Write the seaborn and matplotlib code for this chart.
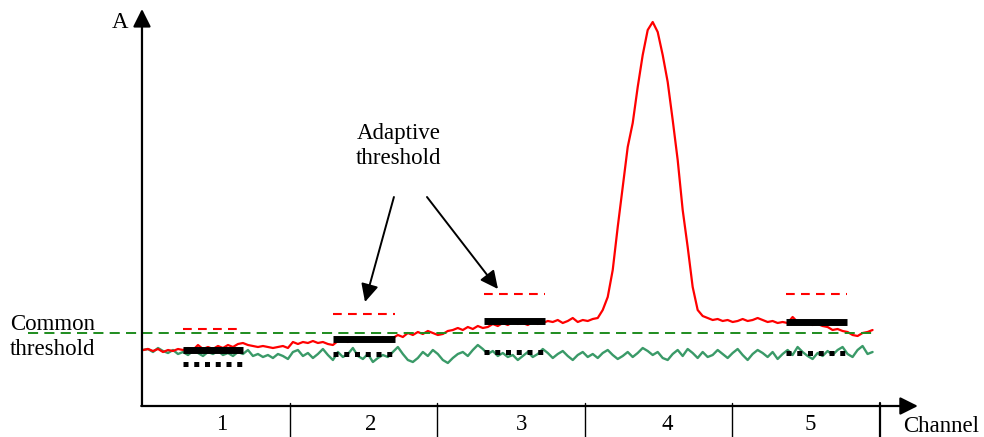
import numpy as np
import matplotlib
matplotlib.use("Agg")
import matplotlib.pyplot as plt
import seaborn as sns

sns.set_style("white")
plt.rcParams['font.family'] = ['Liberation Serif', 'DejaVu Serif']
plt.rcParams['text.color'] = 'black'

# --- data (channel units on x, amplitude A on y) ---
red_signal = [
    56, 57, 55, 57, 54, 56, 55, 57, 56, 58, 56, 61, 57, 59, 57, 60, 58, 61, 59, 62,
    63, 61, 60, 59, 60, 59, 58, 59, 60, 58, 64, 62, 64, 63, 65, 63, 64, 62, 61, 65,
    66, 64, 67, 65, 68, 66, 67, 65, 69, 67, 68, 71, 69, 73, 71, 74, 72, 75, 73, 71,
    72, 75, 76, 78, 76, 79, 77, 80, 78, 79, 82, 80, 83, 81, 84, 82, 83, 81, 84, 82,
    83, 85, 84, 86, 83, 85, 88, 84, 86, 85, 87, 88, 96, 109, 136, 179, 219, 259, 283, 319,
    351, 376, 384, 374, 351, 324, 286, 246, 196, 159, 119, 96, 90, 88, 86, 87, 85, 86, 84, 85,
    87, 85, 86, 88, 86, 84, 85, 83, 84, 83, 89, 84, 82, 83, 81, 82, 80, 79, 76, 77,
    75, 74, 71, 70, 73, 74, 76,
]
green_noise = [
    56, 57, 54, 58, 55, 53, 56, 52, 54, 51, 55, 53, 50, 54, 52, 55, 51, 53, 50, 54,
    52, 56, 50, 52, 49, 51, 48, 52, 50, 47, 54, 56, 50, 53, 48, 52, 57, 51, 46, 54,
    49, 52, 58, 50, 47, 52, 44, 48, 51, 49, 54, 59, 52, 46, 44, 48, 54, 50, 56, 52,
    46, 43, 48, 52, 54, 50, 56, 61, 57, 52, 55, 50, 53, 49, 51, 46, 50, 54, 49, 52,
    57, 53, 48, 52, 55, 50, 46, 51, 54, 49, 52, 48, 53, 56, 51, 47, 50, 54, 49, 53,
    58, 55, 51, 54, 48, 46, 52, 56, 50, 57, 53, 48, 54, 49, 51, 56, 52, 48, 53, 57,
    51, 46, 52, 56, 53, 49, 54, 47, 52, 56, 51, 59, 54, 50, 47, 53, 50, 55, 51, 56,
    59, 52, 49, 56, 60, 52, 54,
]
signal_span = (0.007, 4.95)

channels = ['1', '2', '3', '4', '5']
channel_edges = [1, 2, 3, 4, 5]
label_x = [0.54, 1.55, 2.57, 3.56, 4.53]

# analysis windows in channels 1, 2, 3 and 5
win_start = [0.278, 1.294, 2.317, 4.363]
win_end = [0.684, 1.714, 2.730, 4.776]
adaptive_thr = [77, 92, 112, 112]
signal_level = [56, 67, 85, 84]
noise_level = [42, 52, 54, 53]

common_thr = 73
common_span = (-0.772, 4.966)

# --- figure ---
fig = plt.figure(figsize=(9.84, 4.37), dpi=100)
ax = fig.add_axes([0, 0, 1, 1])
ax.set_xlim(-0.962, 5.705)
ax.set_ylim(-31, 406)
ax.axis('off')

x_sig = np.linspace(signal_span[0], signal_span[1], len(red_signal))
x_noise = np.linspace(signal_span[0], signal_span[1], len(green_noise))
sns.lineplot(x=x_noise, y=green_noise, ax=ax, color='#3a9a68', linewidth=1.7)
sns.lineplot(x=x_sig, y=red_signal, ax=ax, color='#ff0000', linewidth=1.6)

# common threshold
ax.plot(common_span, [common_thr, common_thr], color='#1e8c1e', lw=1.4,
        dashes=(5.2, 3.2))

for s, e, thr, sig, noi in zip(win_start, win_end, adaptive_thr, signal_level, noise_level):
    ax.plot([s, e], [thr, thr], color='#ff0000', lw=1.5, dashes=(4.2, 3.0))
    ax.plot([s, e], [sig, sig], color='black', lw=5, solid_capstyle='butt')
    ax.plot([s, e], [noi, noi], color='black', lw=3.6, dashes=(1, 1.15),
            dash_capstyle='butt')

# axes with arrows
arrow = dict(arrowstyle='-|>,head_length=0.4,head_width=0.2', color='black',
             lw=1.6, mutation_scale=27, shrinkA=0, shrinkB=0)
ax.annotate('', xy=(0, 397), xytext=(0, 0), arrowprops=arrow)
ax.annotate('', xy=(5.257, 0), xytext=(-0.005, 0), arrowprops=arrow)

# channel separators and labels
for i, edge in enumerate(channel_edges):
    ax.plot([edge, edge], [3, -31], color='black',
            lw=1.6 if i == len(channel_edges) - 1 else 1.0)
for lx, name in zip(label_x, channels):
    ax.text(lx, -19, name, ha='center', va='center', fontsize=16.5)

ax.text(-0.149, 384, 'A', ha='center', va='center', fontsize=16.5)
ax.text(5.156, -20, 'Channel', ha='left', va='center', fontsize=16.5)
ax.text(-0.894, 69, 'Common\nthreshold', ha='left', va='center', fontsize=16.5)

ax.text(1.741, 260, 'Adaptive\nthreshold', ha='center', va='center', fontsize=16.5)
thin = dict(arrowstyle='-|>,head_length=0.45,head_width=0.22', color='black',
            lw=1.4, mutation_scale=24, shrinkA=0, shrinkB=0)
ax.annotate('', xy=(1.511, 104), xytext=(1.707, 209), arrowprops=thin)
ax.annotate('', xy=(2.412, 117), xytext=(1.931, 209), arrowprops=thin)

fig.savefig('out.png', dpi=100)
